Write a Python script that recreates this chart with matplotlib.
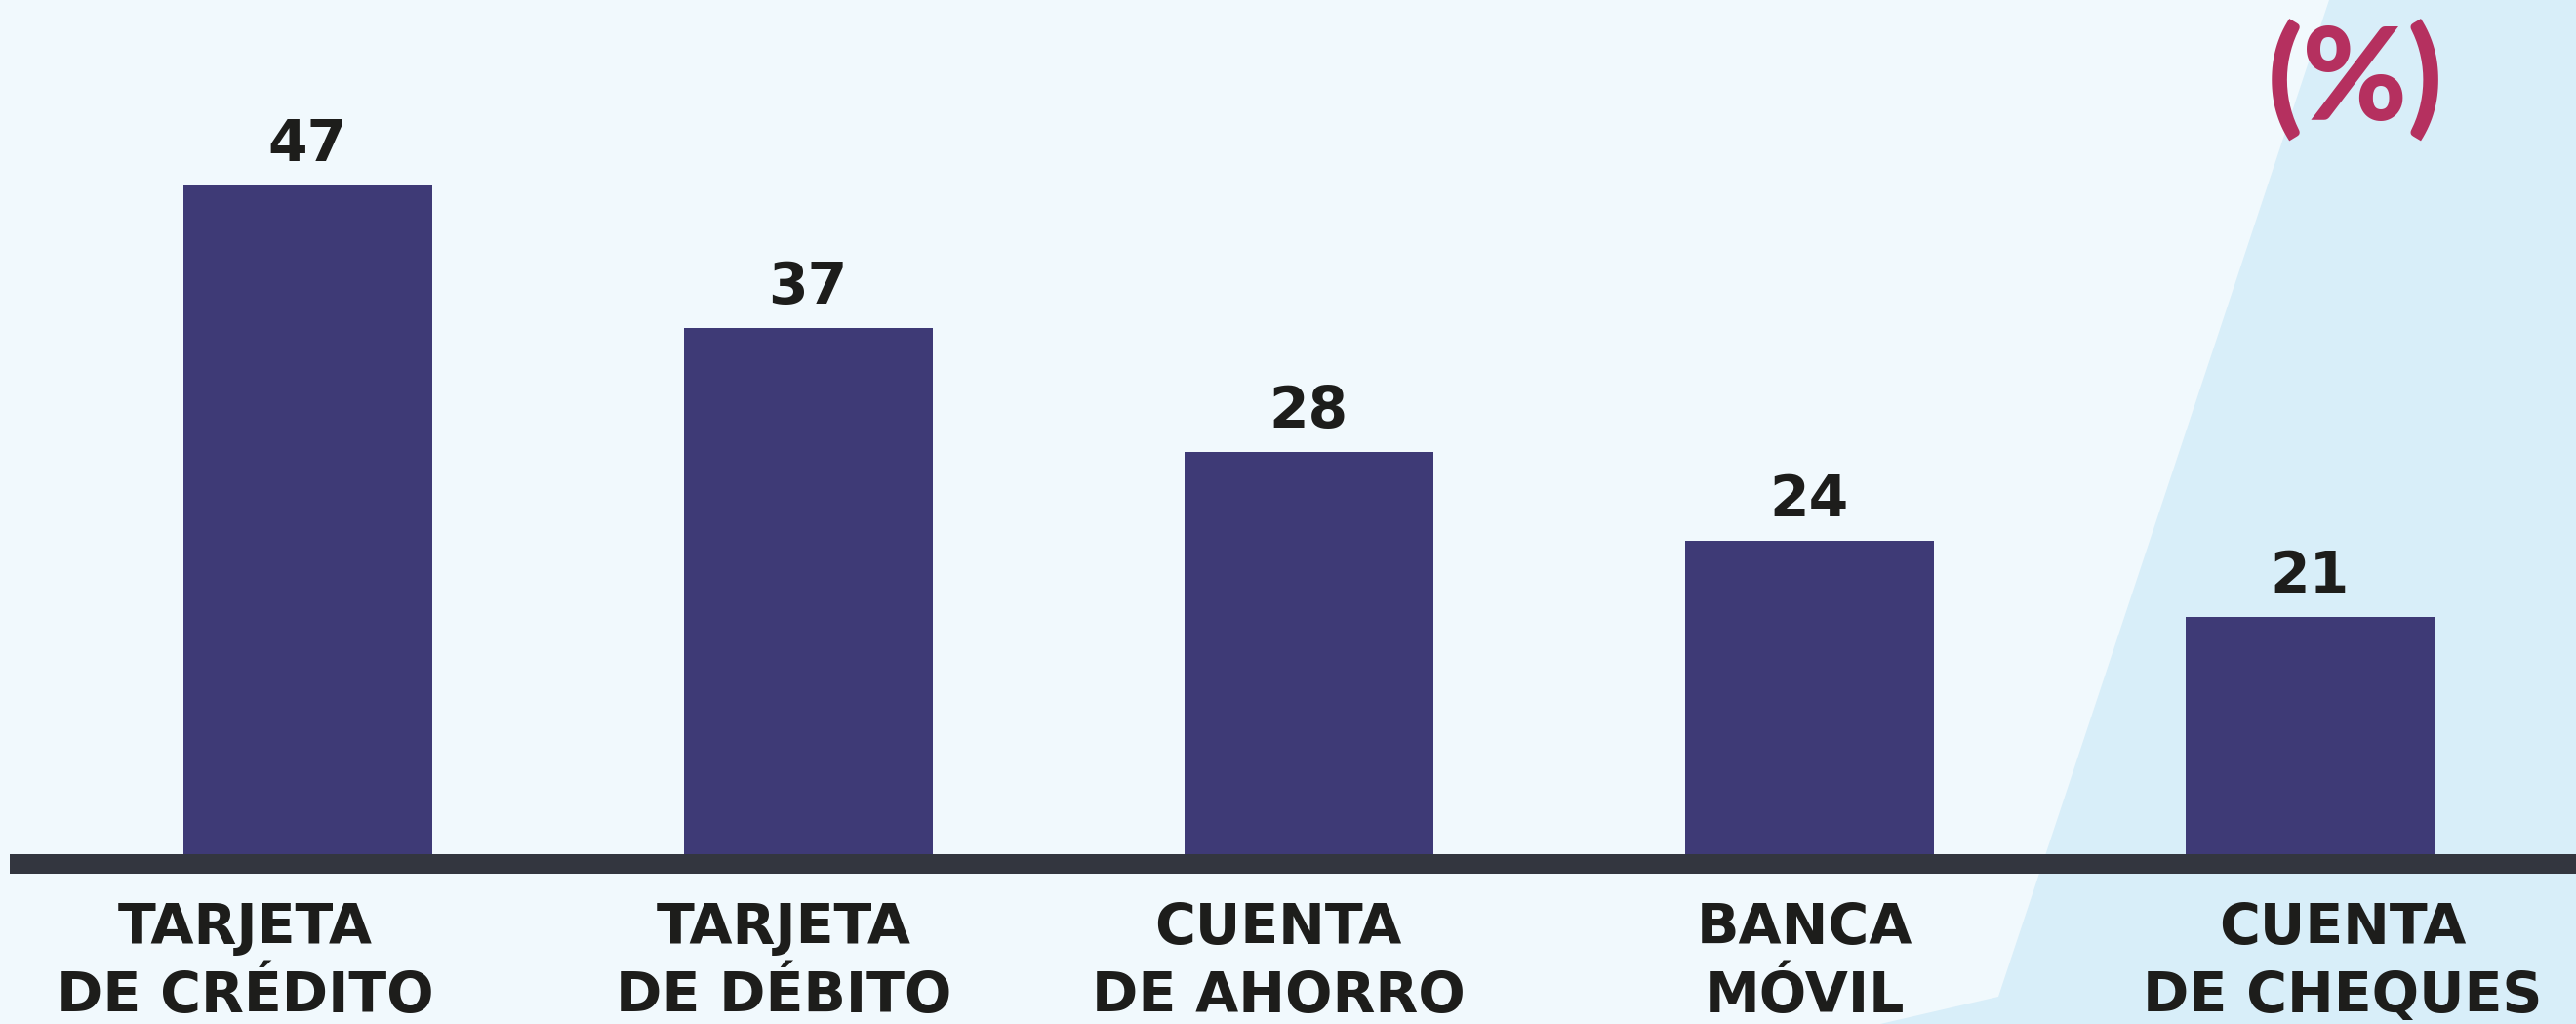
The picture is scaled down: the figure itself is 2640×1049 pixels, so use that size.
import matplotlib
matplotlib.use("Agg")
import matplotlib.pyplot as plt
from matplotlib.patches import Polygon

# ---- data ----
categories = ["TARJETA\nDE CRÉDITO", "TARJETA\nDE DÉBITO", "CUENTA\nDE AHORRO",
              "BANCA\nMÓVIL", "CUENTA\nDE CHEQUES"]
values = [47, 37, 28, 24, 21]                 # printed percentages
bar_lengths = [47, 37, 28.3, 22.0, 16.7]      # bar lengths as drawn in the source graphic
unit_label = "(%)"

# ---- layout / style ----
W, H = 2640, 1049
BG = "#F1F9FD"
BG2 = "#D8EEF9"
BAR = "#3E3A76"
AXIS = "#33363F"
TXT = "#1D1D1B"
MAG = "#B5305F"
FONT = ["DejaVu Sans"]

x0, step, base, ppu = 315, 513, 875, 14.57
label_offsets = [-0.125, -0.049, -0.060, -0.008, 0.066]

fig = plt.figure(figsize=(W / 100, H / 100), dpi=100)
fig.patch.set_facecolor(BG)
ax = fig.add_axes([0, 0, 1, 1])
ax.set_facecolor("none")
ax.axis("off")
ax.set_xlim(-x0 / step, (W - x0) / step)
ax.set_ylim(-(H - base) / ppu, base / ppu)

poly = Polygon([(2387 / W, 1), (2048 / W, 1 - 1021 / H), (1927 / W, 0), (1, 0), (1, 1)],
               closed=True, transform=ax.transAxes, facecolor=BG2, edgecolor="none", zorder=0)
ax.add_patch(poly)

xs = list(range(len(categories)))
ax.bar(xs, bar_lengths, width=255 / step, color=BAR, zorder=2)

# axis line
ax.axhspan(-20 / ppu, 0, xmin=10 / W, xmax=1, color=AXIS, zorder=3, lw=0)

for x, v, L in zip(xs, values, bar_lengths):
    ax.text(x, L + 25 / ppu, str(v), ha="center", va="baseline", fontsize=42,
            fontweight="bold", color=TXT, family=FONT, zorder=4)

for x, cat, off in zip(xs, categories, label_offsets):
    lines = cat.split("\n")
    for j, line in enumerate(lines):
        yb = (base - (967 + 70 * j)) / ppu
        ax.text(x + off, yb, line, ha="center", va="baseline", fontsize=41,
                fontweight="bold", color=TXT, family=FONT, zorder=4)

fig.text(2414 / W, 1 - 83 / H, unit_label, ha="center", va="center", fontsize=94,
         fontweight="black", color=MAG, family=["Lato", "DejaVu Sans"])

fig.savefig("out.png", dpi=100, facecolor=BG)
